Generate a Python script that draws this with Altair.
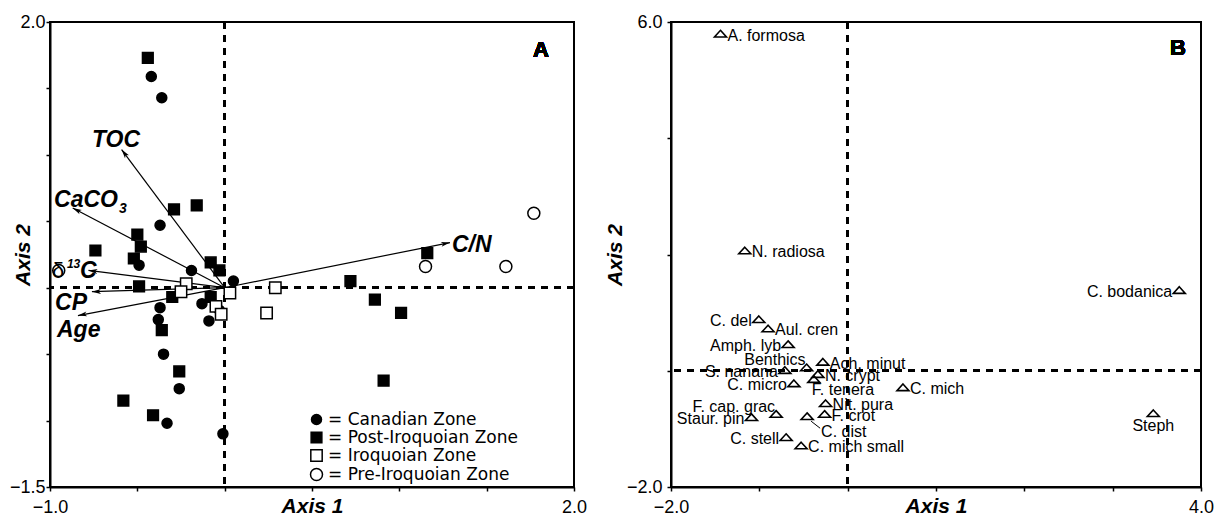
import math
import altair as alt
import pandas as pd

FONT = "Liberation Sans"

# ---------------- Panel A : samples ----------------
zones = ["Canadian Zone", "Post-Iroquoian Zone", "Iroquoian Zone", "Pre-Iroquoian Zone"]

canadian_x = [-0.42, -0.36, -0.37, -0.49, -0.19, 0.05, -0.13, -0.03, -0.09, -0.37, -0.38, -0.35, -0.26, -0.33, -0.01]
canadian_y = [1.59, 1.43, 0.47, 0.17, 0.13, 0.05, -0.12, -0.17, -0.25, -0.15, -0.24, -0.50, -0.76, -1.02, -1.10]

post_x = [-0.44, -0.29, -0.16, -0.50, -0.48, -0.74, -0.52, -0.08, -0.03, -0.49, -0.30, -0.08, -0.36, -0.26, -0.58, -0.41, 1.16, 0.72, 0.86, 1.01, 0.91]
post_y = [1.73, 0.59, 0.62, 0.40, 0.31, 0.28, 0.22, 0.19, 0.13, 0.01, -0.07, -0.07, -0.32, -0.63, -0.85, -0.96, 0.26, 0.05, -0.09, -0.19, -0.70]

iroq_x = [-0.22, -0.25, 0.03, -0.05, -0.02, 0.29, 0.24]
iroq_y = [0.03, -0.03, -0.04, -0.14, -0.20, 0.00, -0.19]

pre_x = [1.15, 1.61, 1.77, -0.95]
pre_y = [0.16, 0.16, 0.56, 0.13]

# ---------------- Panel A : environmental vectors ----------------
vec_names = ["TOC", "CaCO3", "d13C", "CP", "Age", "C/N"]
vec_x = [-0.59, -0.87, -0.78, -0.76, -0.84, 1.29]
vec_y = [1.04, 0.60, 0.13, -0.03, -0.21, 0.34]

# vector label pieces (text, anchor x, anchor y, style)
lab_text = ["TOC", "CaCO", "3", "\u03b4", "13", "C", "CP", "Age", "C/N"]
lab_x = [-0.76, -0.977, -0.605, -0.989, -0.903, -0.828, -0.971, -0.96, 1.301]
lab_y = [1.06, 0.608, 0.563, 0.074, 0.149, 0.074, -0.167, -0.370, 0.269]
lab_part = ["main", "main", "small", "greek", "sup", "main", "main", "main", "main"]

# ---------------- Panel B : taxa ----------------
taxa = ["A. formosa", "N. radiosa", "C. bodanica", "Steph", "C. mich", "C. del", "Aul. cren",
        "Amph. lyb", "Benthics", "Ach. minut", "S. nanana", "N. crypt", "F. tenera", "C. micro",
        "Nit. pura", "F. crot", "F. cap. grac", "Staur. pin", "C. dist", "C. stell", "C. mich small"]
taxa_x = [-1.44, -1.165, 3.754, 3.46, 0.626, -1.006, -0.901, -0.674, -0.465, -0.281, -0.711, -0.337,
          -0.383, -0.609, -0.25, -0.261, -0.81, -1.089, -0.459, -0.697, -0.527]
taxa_y = [5.80, 2.069, 1.388, -0.731, -0.285, 0.886, 0.727, 0.457, 0.058, 0.154, 0.012, -0.057,
          -0.143, -0.216, -0.559, -0.743, -0.743, -0.799, -0.782, -1.142, -1.286]
taxa_pos = ["R", "R", "L", "B", "R", "L", "R", "L", "LA", "R", "L", "R", "RB", "L", "R", "R",
            "LA", "L", "RD", "L", "R"]

# ---------------- geometry ----------------
WA, HA = 524, 465
WB, HB = 530, 465
XA = [-1.0, 2.0]
YA = [-1.5, 2.0]
XB = [-2.0, 4.0]
YB = [-2.0, 6.0]

# ---------------- data frames ----------------
rows = []
for z, xs, ys in zip(zones, [canadian_x, post_x, iroq_x, pre_x], [canadian_y, post_y, iroq_y, pre_y]):
    for a, b in zip(xs, ys):
        rows.append({"zone": z, "x": a, "y": b})
df_a = pd.DataFrame(rows)

kx = WA / (XA[1] - XA[0])
ky = HA / (YA[1] - YA[0])
df_vec = pd.DataFrame({"name": vec_names, "x": vec_x, "y": vec_y})
df_vec["ang"] = [(math.degrees(math.atan2(a * kx, b * ky)) + 360) % 360 for a, b in zip(vec_x, vec_y)]
df_lab = pd.DataFrame({"text": lab_text, "x": lab_x, "y": lab_y, "part": lab_part})
df_b = pd.DataFrame({"name": taxa, "x": taxa_x, "y": taxa_y, "pos": taxa_pos})


def axis(values, lo, hi, title, orient, pad, title_pos):
    expr = f"datum.value == {lo} || datum.value == {hi} ? format(datum.value, '.1f') : ''"
    kw = dict(values=values, labelExpr=expr, title=title, labelPadding=pad)
    if orient == "x":
        kw.update(titleY=title_pos, titleBaseline="alphabetic")
    else:
        kw.update(titleX=title_pos, titleBaseline="alphabetic", titleAngle=270)
    return alt.Axis(**kw)


ax_xa = axis([-1, -0.5, 0, 0.5, 1, 1.5, 2], -1, 2, "Axis 1", "x", 7, 25)
ax_ya = axis([-1.5, -1, -0.5, 0, 0.5, 1, 1.5, 2], -1.5, 2, "Axis 2", "y", 1, -21)
ax_xb = axis([-2, -1, 0, 1, 2, 3, 4], -2, 4, "Axis 1", "x", 7, 25)
ax_yb = axis([-2, 0, 2, 4, 6], -2, 6, "Axis 2", "y", 5, -50)

XA_enc = lambda: alt.X("x:Q", scale=alt.Scale(domain=XA, nice=False, zero=False), axis=ax_xa)
YA_enc = lambda: alt.Y("y:Q", scale=alt.Scale(domain=YA, nice=False, zero=False), axis=ax_ya)
XB_enc = lambda: alt.X("x:Q", scale=alt.Scale(domain=XB, nice=False, zero=False), axis=ax_xb)
YB_enc = lambda: alt.Y("y:Q", scale=alt.Scale(domain=YB, nice=False, zero=False), axis=ax_yb)

DASH = [7, 6]

# ---------------- Panel A layers ----------------
vrule_a = alt.Chart(df_a).mark_rule(strokeDash=DASH, strokeWidth=2, color="black").encode(x=alt.datum(0))
hrule_a = alt.Chart(df_a).mark_rule(strokeDash=DASH, strokeWidth=2, color="black").encode(y=alt.datum(0))

arrows = alt.Chart(df_vec).mark_rule(color="black", strokeWidth=1.2).encode(
    x=XA_enc(), y=YA_enc(), x2=alt.datum(0), y2=alt.datum(0))
heads = alt.Chart(df_vec).mark_point(
    shape="M0,0 L0.55,2 L0,1.5 L-0.55,2 Z", filled=True, color="black", size=81, opacity=1
).encode(x=XA_enc(), y=YA_enc(), angle=alt.Angle("ang:Q", scale=None))


def zone_legend():
    return alt.Legend(title=None, orient="none", legendX=258, legendY=389,
                      labelExpr="'= ' + datum.label")


points = alt.Chart(df_a).mark_point(filled=True, strokeWidth=1.5, opacity=1).encode(
    x=XA_enc(), y=YA_enc(),
    shape=alt.Shape("zone:N", scale=alt.Scale(domain=zones, range=["circle", "square", "square", "circle"]),
                    legend=zone_legend()),
    fill=alt.Fill("zone:N", scale=alt.Scale(domain=zones, range=["black", "black", "white", "white"]),
                  legend=zone_legend()),
    stroke=alt.Stroke("zone:N", scale=alt.Scale(domain=zones, range=["black", "black", "black", "black"]),
                      legend=zone_legend()),
    size=alt.Size("zone:N", scale=alt.Scale(domain=zones, range=[100, 144, 100, 80]),
                  legend=zone_legend()),
)

lab_main = alt.Chart(df_lab).transform_filter(alt.datum.part == "main").mark_text(
    font=FONT, fontSize=23, fontWeight="bold", fontStyle="italic", align="left", baseline="alphabetic", color="black"
).encode(x=XA_enc(), y=YA_enc(), text="text:N")
lab_small = alt.Chart(df_lab).transform_filter(alt.datum.part == "small").mark_text(
    font=FONT, fontSize=14, fontWeight="bold", fontStyle="italic", align="left", baseline="alphabetic", color="black"
).encode(x=XA_enc(), y=YA_enc(), text="text:N")
lab_sup = alt.Chart(df_lab).transform_filter(alt.datum.part == "sup").mark_text(
    font=FONT, fontSize=12, fontWeight="bold", fontStyle="italic", align="left", baseline="alphabetic", color="black"
).encode(x=XA_enc(), y=YA_enc(), text="text:N")
lab_greek = alt.Chart(df_lab).transform_filter(alt.datum.part == "greek").mark_text(
    font=FONT, fontSize=22, align="left", baseline="alphabetic", color="black"
).encode(x=XA_enc(), y=YA_enc(), text="text:N")

tag_a = alt.Chart(df_a).mark_text(text="A", font=FONT, fontSize=22, fontWeight="bold", align="center",
                                  baseline="alphabetic", color="black").encode(x=alt.datum(1.81), y=alt.datum(1.74))

panel_a = alt.layer(vrule_a, hrule_a, arrows, heads, points, lab_main, lab_small, lab_sup, lab_greek, tag_a
                    ).properties(width=WA, height=HA)

# ---------------- Panel B layers ----------------
vrule_b = alt.Chart(df_b).mark_rule(strokeDash=DASH, strokeWidth=2, color="black").encode(x=alt.datum(0))
hrule_b = alt.Chart(df_b).mark_rule(strokeDash=DASH, strokeWidth=2, color="black").encode(y=alt.datum(0))

tri = alt.Chart(df_b).mark_point(shape="M0,-0.55 L1,0.55 L-1,0.55 Z", filled=False, stroke="black",
                                 strokeWidth=1.6, size=144, opacity=1).encode(x=XB_enc(), y=YB_enc())

leader = alt.Chart(df_b).transform_filter(alt.datum.pos == "RD").mark_rule(
    color="black", strokeWidth=1, xOffset=4, yOffset=5, x2Offset=13, y2Offset=12
).encode(x=XB_enc(), y=YB_enc(), x2="x:Q", y2="y:Q")

place = {
    "R": dict(align="left", baseline="middle", dx=7, dy=2),
    "L": dict(align="right", baseline="middle", dx=-7, dy=2),
    "B": dict(align="center", baseline="top", dx=0, dy=5),
    "LA": dict(align="right", baseline="middle", dx=-1, dy=-7),
    "RB": dict(align="left", baseline="middle", dx=-2, dy=11),
    "RD": dict(align="left", baseline="middle", dx=14, dy=16),
}
text_layers = []
for key, opts in place.items():
    text_layers.append(
        alt.Chart(df_b).transform_filter(alt.datum.pos == key).mark_text(
            font=FONT, fontSize=16, color="black", **opts
        ).encode(x=XB_enc(), y=YB_enc(), text="name:N")
    )

tag_b = alt.Chart(df_b).mark_text(text="B", font=FONT, fontSize=22, fontWeight="bold", align="center",
                                  baseline="alphabetic", color="black").encode(x=alt.datum(3.74), y=alt.datum(5.43))

panel_b = alt.layer(vrule_b, hrule_b, tri, leader, *text_layers, tag_b).properties(width=WB, height=HB)

chart = alt.hconcat(panel_a, panel_b, spacing=15).properties(
    padding={"left": 0, "top": 4, "right": 0, "bottom": 0}
).configure(font=FONT).configure_view(
    stroke="black", strokeWidth=2
).configure_axis(
    grid=False, domainColor="black", domainWidth=2, tickColor="black", tickWidth=1.5, tickSize=4,
    labelFont=FONT, labelFontSize=18, labelColor="black", labelFlush=False, labelOverlap=False,
    titleFont=FONT, titleFontSize=21, titleFontWeight="bold", titleFontStyle="italic", titleColor="black",
).configure_legend(
    labelFont="DejaVu Sans", labelFontSize=17, labelColor="black", labelOffset=3, rowPadding=0, padding=0,
    symbolStrokeWidth=1.5, labelLimit=400
)

chart.save("out.html", embed_options={"renderer": "svg", "actions": False})
